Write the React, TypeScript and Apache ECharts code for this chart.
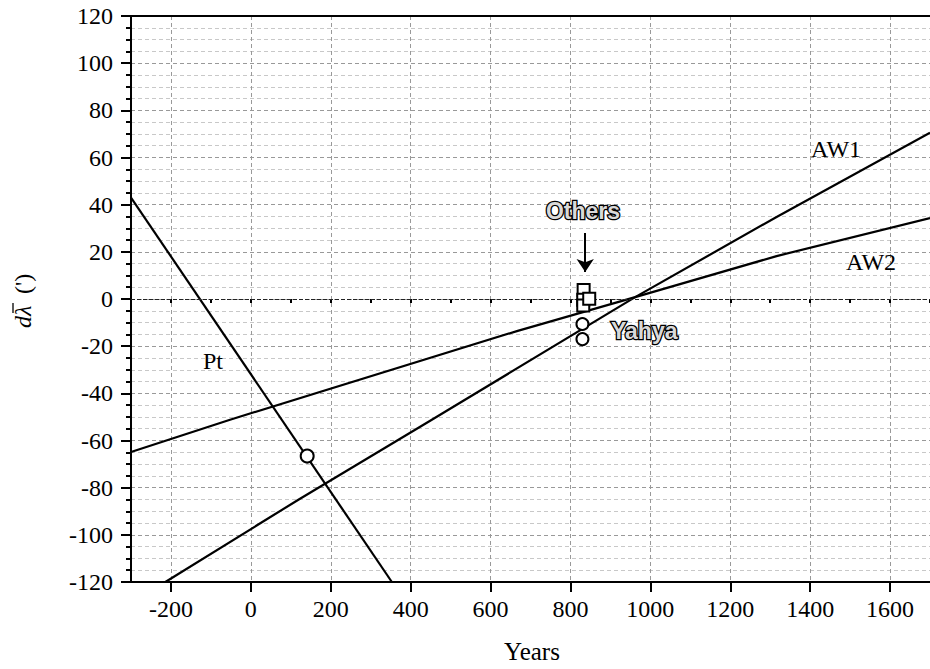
import React, { useEffect, useRef } from "react";
import * as echarts from "echarts";

// ---- data ----
const aw1X = [-214, 120, 452, 962, 1316, 1700];
const aw1Y = [-120, -85, -51.3, 0.8, 34.8, 70.5];

const aw2X = [-300, -54, 668, 962, 1316, 1700];
const aw2Y = [-64.9, -51.3, -13.5, 0.8, 18.2, 34.3];

const ptX = [-300, 353];
const ptY = [43, -120];

const ptPointX = [141];
const ptPointY = [-66.6];

const othersX = [833, 832, 832, 847];
const othersY = [3.8, -0.3, -2.8, 0.1];

const yahyaX = [830, 830];
const yahyaY = [-10.6, -17];

const arrowX = [837, 837];
const arrowY = [28, 11.5];

const xMajorTicks = [-200, 0, 200, 400, 600, 800, 1000, 1200, 1400, 1600];

const zip = (xs: number[], ys: number[]) => xs.map((x, i) => [x, ys[i]]);

const SERIF = "Liberation Serif";
const SANS = "Liberation Sans";

export default function App() {
  const ref = useRef<HTMLDivElement>(null);
  useEffect(() => {
    if (!ref.current) return;
    const chart = echarts.init(ref.current, null, { renderer: "svg" });
    const grid = { left: 131, top: 16, width: 803, height: 566 };
    const lineStyle = { color: "#000", width: 2.2 };
    const markerStyle = { color: "#fff", borderColor: "#000", borderWidth: 2, opacity: 1 };
    const plain = (v: number) => String(v);

    chart.setOption({
      animation: false,
      backgroundColor: "#fff",
      textStyle: { fontFamily: SERIF },
      grid,
      xAxis: [
        {
          type: "value",
          position: "bottom",
          min: -300,
          max: 1700,
          interval: 100,
          axisLine: { show: true, onZero: false, lineStyle: { color: "#000", width: 2 } },
          axisTick: {
            show: true,
            customValues: xMajorTicks,
            length: 10,
            lineStyle: { color: "#000", width: 2 },
          },
          axisLabel: {
            customValues: xMajorTicks,
            formatter: plain,
            margin: 15,
            color: "#000",
            fontFamily: SERIF,
            fontSize: 24,
          },
          splitLine: {
            show: true,
            lineStyle: { color: "#999", type: [4, 3], width: 1 },
          },
        },
        {
          type: "value",
          position: "bottom",
          min: -300,
          max: 1700,
          interval: 100,
          axisLine: { show: false },
          axisTick: { show: true, length: 4, lineStyle: { color: "#000", width: 2 } },
          axisLabel: { show: false },
          splitLine: { show: false },
        },
        {
          type: "value",
          position: "top",
          min: -300,
          max: 1700,
          interval: 100,
          axisLine: { show: true, onZero: false, lineStyle: { color: "#000", width: 2 } },
          axisTick: { show: false },
          axisLabel: { show: false },
          splitLine: { show: false },
        },
      ],
      yAxis: {
        type: "value",
        min: -120,
        max: 120,
        interval: 20,
        position: "left",
        axisLine: { show: true, onZero: false, lineStyle: { color: "#000", width: 2 } },
        axisTick: { show: true, length: 10, lineStyle: { color: "#000", width: 2 } },
        minorTick: { show: true, splitNumber: 4, length: 5, lineStyle: { color: "#000", width: 2 } },
        axisLabel: { margin: 18, color: "#000", fontFamily: SERIF, fontSize: 24, formatter: plain },
        splitLine: { show: true, lineStyle: { color: "#999", type: [4, 3], width: 1 } },
        minorSplitLine: { show: true, lineStyle: { color: "#c8c8c8", type: [4, 3], width: 1 } },
      },
      series: [
        {
          name: "AW1",
          type: "line",
          data: zip(aw1X, aw1Y),
          showSymbol: false,
          lineStyle,
          z: 3,
          markLine: {
            silent: true,
            symbol: ["none", "none"],
            label: { show: false },
            lineStyle: { color: "#222", type: [4, 2], width: 1 },
            data: [{ yAxis: 0 }],
          },
        },
        { name: "AW2", type: "line", data: zip(aw2X, aw2Y), showSymbol: false, lineStyle, z: 3 },
        { name: "Pt", type: "line", data: zip(ptX, ptY), showSymbol: false, lineStyle, z: 3 },
        {
          name: "PtPoint",
          type: "scatter",
          data: zip(ptPointX, ptPointY),
          symbol: "circle",
          symbolSize: 13,
          itemStyle: markerStyle,
          z: 5,
        },
        {
          name: "Others",
          type: "scatter",
          data: zip(othersX, othersY),
          symbol: "rect",
          symbolSize: 12,
          itemStyle: markerStyle,
          z: 5,
          markLine: {
            silent: true,
            symbol: ["none", "arrow"],
            symbolSize: 13,
            label: { show: false },
            lineStyle: { color: "#000", type: "solid", width: 2 },
            data: [
              [
                { coord: [arrowX[0], arrowY[0]] },
                { coord: [arrowX[1], arrowY[1]] },
              ],
            ],
          },
        },
        {
          name: "Yahya",
          type: "scatter",
          data: zip(yahyaX, yahyaY),
          symbol: "circle",
          symbolSize: 12,
          itemStyle: markerStyle,
          z: 5,
        },
      ],
      graphic: [
        {
          type: "text",
          x: 583,
          y: 211,
          z: 10,
          style: {
            text: "Others",
            fontFamily: SANS,
            fontWeight: "bold",
            fontSize: 23,
            fill: "#d9d9d9",
            stroke: "#000",
            lineWidth: 2.6,
            align: "center",
            verticalAlign: "middle",
          },
        },
        {
          type: "text",
          x: 611,
          y: 331,
          z: 10,
          style: {
            text: "Yahya",
            fontFamily: SANS,
            fontWeight: "bold",
            fontSize: 23,
            fill: "#d9d9d9",
            stroke: "#000",
            lineWidth: 2.6,
            align: "left",
            verticalAlign: "middle",
          },
        },
        {
          type: "text",
          x: 836,
          y: 149,
          z: 10,
          style: { text: "AW1", fontFamily: SERIF, fontSize: 24, fill: "#000", align: "center", verticalAlign: "middle" },
        },
        {
          type: "text",
          x: 871,
          y: 262,
          z: 10,
          style: { text: "AW2", fontFamily: SERIF, fontSize: 24, fill: "#000", align: "center", verticalAlign: "middle" },
        },
        {
          type: "text",
          x: 213,
          y: 361,
          z: 10,
          style: { text: "Pt", fontFamily: SERIF, fontSize: 24, fill: "#000", align: "center", verticalAlign: "middle" },
        },
        {
          type: "text",
          x: 532,
          y: 651,
          z: 10,
          style: { text: "Years", fontFamily: SERIF, fontSize: 25, fill: "#000", align: "center", verticalAlign: "middle" },
        },
        {
          type: "group",
          x: 23,
          y: 300,
          rotation: Math.PI / 2,
          z: 10,
          children: [
            {
              type: "text",
              x: -28,
              y: 0,
              style: {
                text: "d\u03BB",
                fontFamily: SERIF,
                fontStyle: "italic",
                fontSize: 24,
                fill: "#000",
                align: "left",
                verticalAlign: "middle",
              },
            },
            {
              type: "line",
              shape: { x1: -13, y1: -10, x2: -3, y2: -10 },
              style: { stroke: "#000", lineWidth: 1.3 },
            },
            {
              type: "text",
              x: 6,
              y: 0,
              style: {
                text: "(')",
                fontFamily: SERIF,
                fontSize: 24,
                fill: "#000",
                align: "left",
                verticalAlign: "middle",
              },
            },
          ],
        },
      ],
    });

    return () => chart.dispose();
  }, []);
  return (
    <div
      ref={ref}
      style={{ position: "absolute", left: 0, top: 0, width: 930, height: 669, background: "#fff" }}
    />
  );
}
